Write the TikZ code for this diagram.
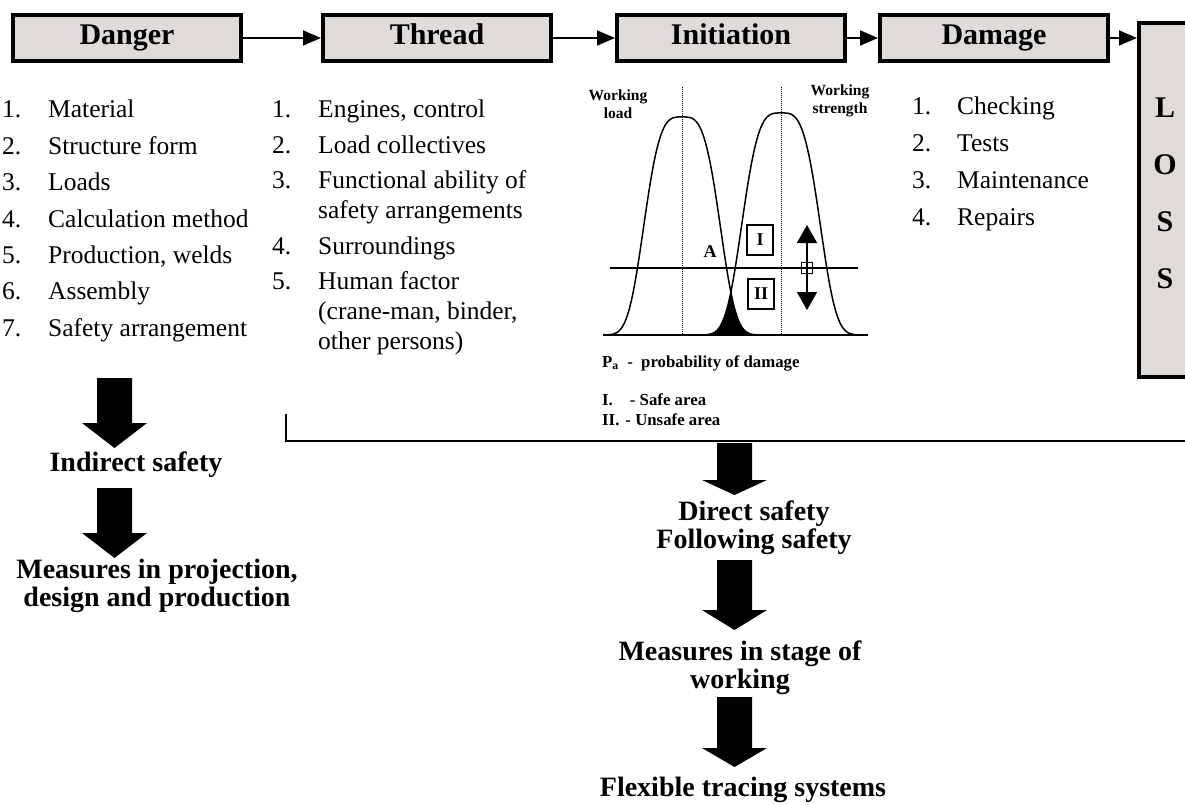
\documentclass[tikz,border=0pt]{standalone}
\usepackage{fontspec}
\setmainfont{Liberation Serif}
\usetikzlibrary{positioning,arrows.meta}
\definecolor{boxgray}{RGB}{222,219,216}

\begin{document}
\begin{tikzpicture}[x=1pt, y=-1pt, node distance=30pt,
    stage/.style = {draw, line width=4pt, fill=boxgray, minimum width=228pt, minimum height=46pt, text height=20pt, text depth=6pt, font=\fontsize{30}{36}\selectfont\bfseries},
    flow/.style = {line width=1.6pt, -{Triangle[length=18pt,width=15pt]}},
    items/.style = {inner sep=0pt, anchor=base west, font=\fontsize{25.5}{36.4}\selectfont},
    result/.style = {align=center, inner sep=0pt, font=\fontsize{28}{28}\selectfont\bfseries},
    small/.style = {inner sep=0pt, font=\fontsize{15.5}{18}\selectfont\bfseries},
    legend/.style = {inner sep=0pt, anchor=west, font=\fontsize{16.8}{20}\selectfont\bfseries},
    area/.style = {draw, line width=1.5pt, minimum width=26pt, minimum height=30pt, font=\fontsize{18}{20}\selectfont\bfseries} ]
        \useasboundingbox (0,0) rectangle (1185,805);

        % stages
        \node[stage] (danger) at (127,38) {Danger};
        \node[stage] (thread) [right = 78pt of danger] {Thread};
        \node[stage] (init) [right = 62pt of thread] {Initiation};
        \node[stage] (damage) [right = 31pt of init] {Damage};
        \node[draw, line width=4pt, fill=boxgray, minimum width=100pt, minimum height=354pt, anchor=north west] (loss) at (1137,21) {};
        \node[align=center, font=\fontsize{30}{57}\selectfont\bfseries] (lossword) at (1165,193) {L\\O\\S\\S};

        \draw[flow] (danger) -- (thread);
        \draw[flow] (thread) -- (init);
        \draw[flow] (init) -- (damage);
        \draw[flow] (damage) -- (damage -| loss.west);

        % lists
        \node[items] (dangerlist) at (2,118) {\begin{tabular}[t]{@{}p{46pt}@{}l}
            1. & Material\\ 2. & Structure form\\ 3. & Loads\\ 4. & Calculation method\\
            5. & Production, welds\\ 6. & Assembly\\ 7. & Safety arrangement
        \end{tabular}};
        \node[items, font=\fontsize{25.5}{30}\selectfont] (threadlist) at (272,118) {\begin{tabular}[t]{@{}p{46pt}@{}l}
            1. & Engines, control\\[5.5pt] 2. & Load collectives\\[5.5pt]
            3. & Functional ability of\\ & safety arrangements\\[5.5pt]
            4. & Surroundings\\[5.5pt]
            5. & Human factor\\ & (crane-man, binder,\\ & other persons)
        \end{tabular}};
        \node[items, font=\fontsize{25.5}{36.7}\selectfont] (damagelist) at (912,115) {\begin{tabular}[t]{@{}p{45pt}@{}l}
            1. & Checking\\ 2. & Tests\\ 3. & Maintenance\\ 4. & Repairs
        \end{tabular}};

        % load and strength curves
        \draw[densely dotted, line width=1pt] (682,87) -- (682,335);
        \draw[densely dotted, line width=1pt] (781,87) -- (781,335);
        \fill plot[domain=698:770, samples=80] (\x, {335-min(218*exp(-((abs(\x-682)/42.5)^3.5)), 222*exp(-((abs(\x-781)/43.5)^3.5)))}) -- cycle;
        \draw[line width=1.5pt] plot[domain=603:772, samples=140, smooth] (\x, {335-218*exp(-((abs(\x-682)/42.5)^3.5))});
        \draw[line width=1.5pt] plot[domain=692:864, samples=140, smooth] (\x, {335-222*exp(-((abs(\x-781)/43.5)^3.5))});
        \draw[line width=2pt] (603,335) -- (868,335);
        \draw[line width=1.5pt] (610,268) -- (858,268);

        \node[small, align=center] (wload) at (618,104) {Working\\load};
        \node[small, align=center] (wstrength) at (840,101) {Working\\strength};
        \node[font=\fontsize{18}{20}\selectfont\bfseries] (A) at (710,252) {A};
        \node[area] (safe) at (760,240) {I};
        \node[area] (unsafe) at (761,294) {II};
        \coordinate (up) at (807,225);
        \coordinate (down) at (807,310);
        \draw[line width=1.5pt, {Triangle[length=18pt,width=20pt]}-{Triangle[length=18pt,width=20pt]}] (up) -- (down);
        \node[draw, line width=1.2pt, minimum size=11pt, inner sep=0pt] (mark) at (807,268) {};

        \node[legend] (pa) at (602,363) {P\textsubscript{a} \ -\ \ probability of damage};
        \node[legend] (safetxt) at (602,400) {I.\hspace{17pt}- Safe area};
        \node[legend] (unsafetxt) at (602,420) {II.\hspace{6pt}- Unsafe area};

        % safety
        \draw[line width=1.5pt] (286,414) -- (286,441) -- (1185,441);

        \fill (97,378) -- (132,378) -- (132,423) -- (147,423) -- (114.5,448) -- (82,423) -- (97,423) -- cycle;
        \node[result] (indirect) at (136,465) {Indirect safety};
        \fill (97,488) -- (132,488) -- (132,533) -- (147,533) -- (114.5,558) -- (82,533) -- (97,533) -- cycle;
        \node[result] (projection) at (157,586) {Measures in projection,\\design and production};

        \fill (717,443) -- (752,443) -- (752,480) -- (767,480) -- (734.5,495) -- (702,480) -- (717,480) -- cycle;
        \node[result] (direct) at (754,528) {Direct safety\\Following safety};
        \fill (717,560) -- (752,560) -- (752,610) -- (767,610) -- (734.5,630) -- (702,610) -- (717,610) -- cycle;
        \node[result] (stage) at (740,668) {Measures in stage of\\working};
        \fill (717,697) -- (752,697) -- (752,748) -- (767,748) -- (734.5,767) -- (702,748) -- (717,748) -- cycle;
        \node[result] (tracing) at (743,790) {Flexible tracing systems};

    \end{tikzpicture}
\end{document}
